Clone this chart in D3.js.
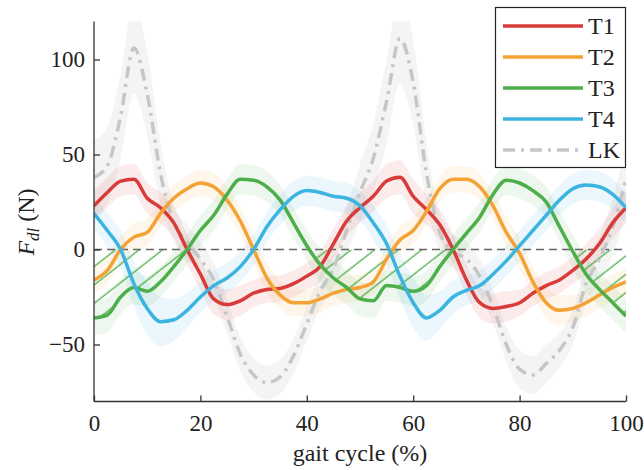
<!DOCTYPE html>
<html>
<head>
<meta charset="utf-8">
<script src="https://cdn.jsdelivr.net/npm/d3@7"></script>
<style>
  html, body { margin: 0; padding: 0; background: #fff; }
  svg text { font-family: 'Liberation Serif', 'Times New Roman', Times, serif !important; }
</style>
</head>
<body>
<svg id="chart" width="644" height="470"></svg>
<script>
// Gait cycle sample points (%)
const gait = d3.range(0, 100.01, 2.5);

// Mean forces (N) for each tendon and the lower-knee reference
const t1 = [23, 30, 36, 37, 27, 22, 14, 0, -13, -26, -29, -27, -23, -21, -20.5, -18, -14, -9, 3, 15, 22, 28, 36, 38, 28, 21, 13, 0, -16, -28, -31, -30, -28, -23, -19, -16, -11, -5, 3, 14, 22];
const t2 = [-16, -11, 0, 6.5, 9, 19, 27, 32, 35, 33, 26, 15, 0, -15, -24, -28, -28, -26, -23, -21, -20, -17, -5, 5, 10, 20, 32, 37, 37, 33, 23, 9, -2, -17, -28, -32, -31, -28, -24, -20, -17];
const t3 = [-36, -34.5, -25, -20, -22, -17, -9, 0, 10, 18, 29, 37, 36.5, 33, 26, 14, 2, -8, -15, -20, -26, -27, -19, -20, -22, -19, -9, 0, 8.5, 17, 29, 36.5, 35, 31, 25, 12, -1, -13, -21, -28, -35];
const t4 = [19, 10, 0, -18, -31, -38, -37, -32, -25, -19, -15, -9, 0, 12, 21, 28, 31, 30, 28, 27, 23, 14, 3, -14, -28, -36, -32, -25, -21.5, -19, -13, -6, 2, 10, 18, 26, 32, 34, 33, 29, 22];
const lk = [38, 44, 70, 106, 82, 40, 14, 4, -5, -16, -35, -55, -66, -70, -67, -56, -39, -22, -10, 10, 30, 48, 78, 111, 88, 40, 9, -1, -5, -14, -30, -50, -63, -66, -60, -53, -41, -18, -5, 12, 37];

// Standard deviations (N) at the same sample points
const t1Sd = [8, 8, 8, 8, 8, 8, 8, 8, 8, 8, 8, 8, 7, 7, 7, 7, 7, 8, 8, 8, 8, 8, 9, 9, 9, 8, 8, 8, 8, 8, 8, 8, 7, 7, 7, 7, 7, 8, 8, 8, 8];
const t2Sd = [7, 7, 7, 7, 7, 7, 7, 7, 7, 7, 7, 7, 8, 8, 7, 7, 7, 7, 7, 7, 7, 7, 7, 7, 7, 7, 7, 7, 7, 7, 7, 8, 8, 8, 8, 8, 7, 7, 7, 7, 7];
const t3Sd = [9, 9, 9, 9, 8, 8, 8, 8, 8, 8, 8, 8, 8, 8, 8, 8, 8, 9, 9, 9, 9, 9, 8, 8, 8, 8, 8, 8, 8, 8, 8, 8, 8, 8, 8, 8, 9, 9, 9, 9, 9];
const t4Sd = [8, 9, 10, 12, 14, 13, 11, 9, 8, 8, 8, 8, 8, 8, 8, 8, 8, 8, 8, 8, 8, 9, 10, 12, 13, 12, 10, 9, 8, 8, 8, 8, 8, 8, 8, 8, 8, 8, 8, 8, 8];
const lkSd = [20, 20, 22, 24, 22, 16, 10, 9, 9, 9, 9, 9, 9, 9, 9, 9, 9, 9, 10, 12, 15, 18, 22, 24, 22, 16, 10, 9, 9, 9, 9, 9, 10, 10, 10, 9, 9, 10, 12, 15, 18];

// Axis ticks and legend labels
const xTicks = [0, 20, 40, 60, 80, 100];
const yTicks = [-50, 0, 50, 100];
const seriesNames = ["T1", "T2", "T3", "T4", "LK"];
const seriesColors = ["#d93a3a", "#f4a233", "#4caf4a", "#3bb4df", "#c6c6c6"];

const series = [t1, t2, t3, t4, lk].map((vals, i) => ({
  name: seriesNames[i],
  color: seriesColors[i],
  sd: [t1Sd, t2Sd, t3Sd, t4Sd, lkSd][i],
  values: vals
}));

const serif = "'Liberation Serif', 'Times New Roman', Times, serif";
const svg = d3.select("#chart");
const plotLeft = 94, plotRight = 626, plotTop = 21.5, plotBottom = 401.5;

const x = d3.scaleLinear().domain([0, 100]).range([plotLeft, plotRight]);
const y = d3.scaleLinear().domain([-80, 120]).range([plotBottom, plotTop]);

const defs = svg.append("defs");
defs.append("clipPath").attr("id", "plot-clip")
  .append("rect").attr("x", plotLeft).attr("y", plotTop)
  .attr("width", plotRight - plotLeft).attr("height", plotBottom - plotTop);
defs.append("clipPath").attr("id", "below-zero")
  .append("rect").attr("x", plotLeft).attr("y", y(0))
  .attr("width", plotRight - plotLeft).attr("height", plotBottom - y(0));

// Diagonal hatch for the region where T3 is negative
const hatch = defs.append("pattern").attr("id", "hatch")
  .attr("patternUnits", "userSpaceOnUse")
  .attr("width", 20).attr("height", 14.5)
  .attr("patternTransform", "rotate(-38)");
hatch.append("line").attr("x1", 0).attr("y1", 7).attr("x2", 20).attr("y2", 7)
  .attr("stroke", "#4caf4a").attr("stroke-width", 1.3);

const plot = svg.append("g").attr("clip-path", "url(#plot-clip)");
const curve = d3.curveMonotoneX;

// Standard-deviation bands
const band = (s) => d3.area()
  .x((d, i) => x(gait[i]))
  .y0((d, i) => y(d - s.sd[i]))
  .y1((d, i) => y(d + s.sd[i]))
  .curve(curve);

const bandOrder = [4, 0, 1, 2, 3];
bandOrder.forEach(k => {
  const s = series[k];
  plot.append("path")
    .attr("d", band(s)(s.values))
    .attr("fill", s.color)
    .attr("fill-opacity", k === 4 ? 0.2 : 0.1);
});

// Hatched area between zero and T3 where T3 < 0
plot.append("g").attr("clip-path", "url(#below-zero)")
  .append("path")
  .attr("d", d3.area()
    .x((d, i) => x(gait[i]))
    .y0(y(0))
    .y1(d => y(d))
    .curve(curve)(t3))
  .attr("fill", "url(#hatch)");

// Zero reference line
plot.append("line")
  .attr("x1", plotLeft).attr("x2", plotRight)
  .attr("y1", y(0)).attr("y2", y(0))
  .attr("stroke", "#666").attr("stroke-width", 1.6)
  .attr("stroke-dasharray", "8,5");

// Mean curves
const line = d3.line().x((d, i) => x(gait[i])).y(d => y(d)).curve(curve);
plot.append("path")
  .attr("d", line(lk))
  .attr("fill", "none")
  .attr("stroke", series[4].color)
  .attr("stroke-width", 3.5)
  .attr("stroke-dasharray", "12,6,3,6");
[0, 1, 2, 3].forEach(k => {
  plot.append("path")
    .attr("d", line(series[k].values))
    .attr("fill", "none")
    .attr("stroke", series[k].color)
    .attr("stroke-width", 3.5)
    .attr("stroke-linejoin", "round");
});

// Axes with inward ticks
const xAxis = svg.append("g").attr("transform", `translate(0,${plotBottom})`)
  .call(d3.axisBottom(x).tickValues(xTicks).tickSizeInner(-6).tickSizeOuter(0).tickPadding(13));
const yAxis = svg.append("g").attr("transform", `translate(${plotLeft},0)`)
  .call(d3.axisLeft(y).tickValues(yTicks).tickSizeInner(-6).tickSizeOuter(0).tickPadding(9)
    .tickFormat(d => d < 0 ? "\u2212" + Math.abs(d) : d));
[xAxis, yAxis].forEach(g => {
  g.attr("font-family", null);
  g.select(".domain").attr("stroke", "#333").attr("stroke-width", 1.3);
  g.selectAll(".tick line").attr("stroke", "#333").attr("stroke-width", 1.3);
  g.selectAll(".tick text")
    .style("font-family", serif)
    .attr("font-size", 23).attr("fill", "#222");
});
yAxis.select(".domain").attr("d", `M0,${plotTop}V${plotBottom}`);
xAxis.select(".domain").attr("d", `M${plotLeft},0H${plotRight}`);

// Axis titles
svg.append("text")
  .attr("x", 360).attr("y", 461)
  .attr("text-anchor", "middle")
  .style("font-family", serif)
  .attr("font-size", 24).attr("fill", "#222")
  .text("gait cycle (%)");

const yLabel = svg.append("text")
  .attr("transform", "translate(34,222) rotate(-90)")
  .attr("text-anchor", "middle")
  .style("font-family", serif)
  .attr("font-size", 24).attr("fill", "#222");
yLabel.append("tspan").attr("font-style", "italic").text("F");
yLabel.append("tspan").attr("font-style", "italic").attr("font-size", 17)
  .attr("dy", 5).text("dl");
yLabel.append("tspan").attr("dy", -5).text(" (N)");

// Legend
const legend = svg.append("g");
legend.append("rect")
  .attr("x", 495.5).attr("y", 7.5).attr("width", 130).attr("height", 160)
  .attr("fill", "#fff").attr("stroke", "#222").attr("stroke-width", 1.2);
series.forEach((s, i) => {
  const ly = 26 + i * 31;
  legend.append("line")
    .attr("x1", 503).attr("x2", 583).attr("y1", ly).attr("y2", ly)
    .attr("stroke", s.color).attr("stroke-width", 3.5)
    .attr("stroke-dasharray", s.name === "LK" ? "12,6,3,6" : null);
  legend.append("text")
    .attr("x", 588).attr("y", ly + 8)
    .style("font-family", serif)
    .attr("font-size", 24).attr("fill", "#222")
    .text(s.name);
});
</script>
</body>
</html>
